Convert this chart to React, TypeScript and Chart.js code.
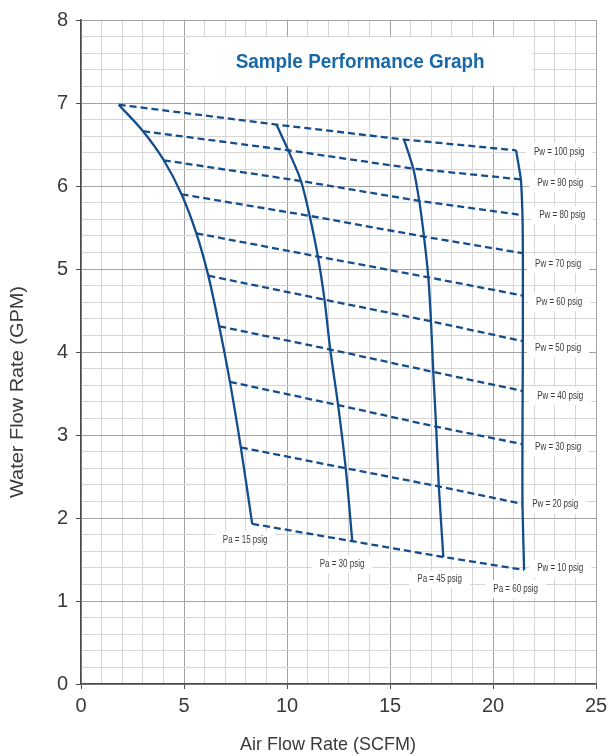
import React, { useEffect, useRef } from 'react';
import { Chart, registerables } from 'chart.js';

Chart.register(...registerables);

// ---- Data (x: Air Flow Rate SCFM, y: Water Flow Rate GPM) ----
// Points of each constant-air-pressure curve, ordered from Pw = 100 down to Pw = 10
const pa15X = [1.83, 3.01, 4.02, 4.88, 5.60, 6.18, 6.71, 7.23, 7.76, 8.31];
const pa15Y = [6.98, 6.66, 6.31, 5.90, 5.43, 4.92, 4.31, 3.64, 2.85, 1.93];
const pa30X = [9.49, 10.06, 10.68, 11.10, 11.50, 11.82, 12.10, 12.48, 12.85, 13.17];
const pa30Y = [6.74, 6.43, 6.06, 5.64, 5.15, 4.63, 4.03, 3.36, 2.60, 1.72];
const pa45X = [15.68, 16.13, 16.42, 16.65, 16.86, 16.99, 17.10, 17.24, 17.37, 17.59];
const pa45Y = [6.56, 6.21, 5.82, 5.39, 4.90, 4.37, 3.76, 3.10, 2.38, 1.53];
const pa60X = [21.12, 21.35, 21.43, 21.45, 21.45, 21.45, 21.44, 21.43, 21.43, 21.51];
const pa60Y = [6.43, 6.08, 5.65, 5.19, 4.68, 4.13, 3.53, 2.89, 2.17, 1.375];

const pwLabels = ['Pw = 100 psig', 'Pw = 90 psig', 'Pw = 80 psig', 'Pw = 70 psig', 'Pw = 60 psig',
  'Pw = 50 psig', 'Pw = 40 psig', 'Pw = 30 psig', 'Pw = 20 psig', 'Pw = 10 psig'];
const pwLabelX = [23.21, 23.26, 23.36, 23.16, 23.21, 23.16, 23.26, 23.16, 23.02, 23.26];
const pwLabelY = [6.41, 6.03, 5.65, 5.06, 4.60, 4.04, 3.47, 2.85, 2.16, 1.39];

const paLabels = ['Pa = 15 psig', 'Pa = 30 psig', 'Pa = 45 psig', 'Pa = 60 psig'];
const paLabelX = [7.97, 12.67, 17.41, 21.10];
const paLabelY = [1.73, 1.44, 1.26, 1.145];

const chartTitle = 'Sample Performance Graph';
const xTitle = 'Air Flow Rate (SCFM)';
const yTitle = 'Water Flow Rate (GPM)';

const xMin = 0, xMax = 25, xStep = 1, xMajor = 5;
const yMin = 0, yMax = 8, yStep = 0.2;

// ---- Styles ----
const LINE_BLUE = '#144d8c';
const TITLE_BLUE = '#1769aa';
const SANS = '"Liberation Sans", Arial, sans-serif';
const MINOR = '#d6d6d6';
const MAJOR = '#a3a3a3';
const AXIS = '#4a4a4a';
const TEXT = '#3a3a3a';

const isInt = (v: number) => Math.abs(v - Math.round(v)) < 1e-6;

// draw text squeezed horizontally to mimic a condensed face
function condensedText(ctx: any, t: string, cx: number, cy: number, sx: number) {
  ctx.save();
  ctx.translate(cx, cy);
  ctx.scale(sx, 1);
  ctx.fillText(t, 0, 0);
  ctx.restore();
}

const annotations = {
  id: 'annotations',
  beforeDatasetsDraw(chart: any) {
    const { ctx, scales } = chart;
    const x = scales.x, y = scales.y;
    ctx.save();
    // title box
    const bx1 = x.getPixelForValue(5.2), bx2 = x.getPixelForValue(21.9);
    const by1 = y.getPixelForValue(7.79), by2 = y.getPixelForValue(7.21);
    ctx.fillStyle = '#ffffff';
    ctx.fillRect(bx1, by1, bx2 - bx1, by2 - by1);
    ctx.font = `bold 21px ${SANS}`;
    ctx.fillStyle = TITLE_BLUE;
    ctx.textAlign = 'center';
    ctx.textBaseline = 'middle';
    const tw = ctx.measureText(chartTitle).width;
    condensedText(ctx, chartTitle, (bx1 + bx2) / 2, (by1 + by2) / 2 + 1, 249 / tw);

    ctx.font = `10px ${SANS}`;
    const drawLabel = (t: string, vx: number, vy: number) => {
      const px = x.getPixelForValue(vx), py = y.getPixelForValue(vy);
      const w = ctx.measureText(t).width * 0.8 + 16;
      const h = 18;
      ctx.fillStyle = '#ffffff';
      ctx.fillRect(px - w / 2, py - h / 2, w, h);
      ctx.fillStyle = TEXT;
      condensedText(ctx, t, px, py, 0.8);
    };
    pwLabels.forEach((t, i) => drawLabel(t, pwLabelX[i], pwLabelY[i]));
    paLabels.forEach((t, i) => drawLabel(t, paLabelX[i], paLabelY[i]));
    ctx.restore();
  },
  afterDraw(chart: any) {
    const { ctx } = chart;
    ctx.save();
    ctx.fillStyle = TEXT;
    ctx.font = `19px ${SANS}`;
    ctx.textAlign = 'center';
    ctx.textBaseline = 'middle';
    const xw = ctx.measureText(xTitle).width;
    condensedText(ctx, xTitle, 328, 745, 176 / xw);
    ctx.translate(18, 392);
    ctx.rotate(-Math.PI / 2);
    const yw = ctx.measureText(yTitle).width;
    condensedText(ctx, yTitle, 0, 0, 212 / yw);
    ctx.restore();
  },
};

export default function App() {
  const ref = useRef<HTMLCanvasElement | null>(null);
  useEffect(() => {
    if (!ref.current) return;
    const paX = [pa15X, pa30X, pa45X, pa60X];
    const paY = [pa15Y, pa30Y, pa45Y, pa60Y];
    const datasets: any[] = [];
    paX.forEach((xs, k) => {
      datasets.push({
        label: `Pa ${k}`,
        data: xs.map((v, i) => ({ x: v, y: paY[k][i] })),
        borderColor: LINE_BLUE,
        borderWidth: 2.3,
        pointRadius: 0,
        tension: k === 3 ? 0.2 : 0.3,
        fill: false,
      });
    });
    pwLabels.forEach((lbl, i) => {
      datasets.push({
        label: lbl,
        data: paX.map((xs, k) => ({ x: xs[i], y: paY[k][i] })),
        borderColor: LINE_BLUE,
        borderWidth: 2.3,
        borderDash: [7, 4],
        pointRadius: 0,
        tension: 0,
        fill: false,
      });
    });

    const chart = new Chart(ref.current, {
      type: 'line',
      data: { datasets },
      plugins: [annotations],
      options: {
        animation: false,
        responsive: false,
        maintainAspectRatio: false,
        layout: { padding: { top: 14, right: 20, left: 0, bottom: 0 } },
        plugins: { legend: { display: false }, tooltip: { enabled: false } },
        scales: {
          x: {
            type: 'linear',
            min: xMin,
            max: xMax,
            afterFit: (s: any) => { s.height = 72; },
            ticks: {
              stepSize: xStep,
              autoSkip: false,
              maxRotation: 0,
              padding: 5,
              color: TEXT,
              font: { family: SANS, size: 20 },
              callback: (v: any) => (Number(v) % xMajor === 0 ? String(v) : ''),
            },
            grid: {
              color: (c: any) => (c.tick && c.tick.value % xMajor === 0 ? MAJOR : MINOR),
              lineWidth: 1,
              tickLength: 5,
              tickColor: (c: any) => (c.tick && c.tick.value % xMajor === 0 ? AXIS : 'rgba(0,0,0,0)'),
            },
            border: { display: true, color: AXIS, width: 1.5 },
          },
          y: {
            type: 'linear',
            min: yMin,
            max: yMax,
            afterFit: (s: any) => { s.width = 81; },
            ticks: {
              stepSize: yStep,
              autoSkip: false,
              padding: 8,
              color: TEXT,
              font: { family: SANS, size: 20 },
              callback: (v: any) => (isInt(Number(v)) ? String(Math.round(Number(v))) : ''),
            },
            grid: {
              color: (c: any) => (c.tick && isInt(c.tick.value) ? MAJOR : MINOR),
              lineWidth: 1,
              tickLength: 5,
              tickColor: (c: any) => (c.tick && isInt(c.tick.value) ? AXIS : 'rgba(0,0,0,0)'),
            },
            border: { display: true, color: AXIS, width: 1.5 },
          },
        },
      },
    } as any);
    return () => chart.destroy();
  }, []);

  return (
    <div style={{ position: 'absolute', left: 0, top: 0, width: 616, height: 756, background: '#fff' }}>
      <canvas ref={ref} width={616} height={756} />
    </div>
  );
}
